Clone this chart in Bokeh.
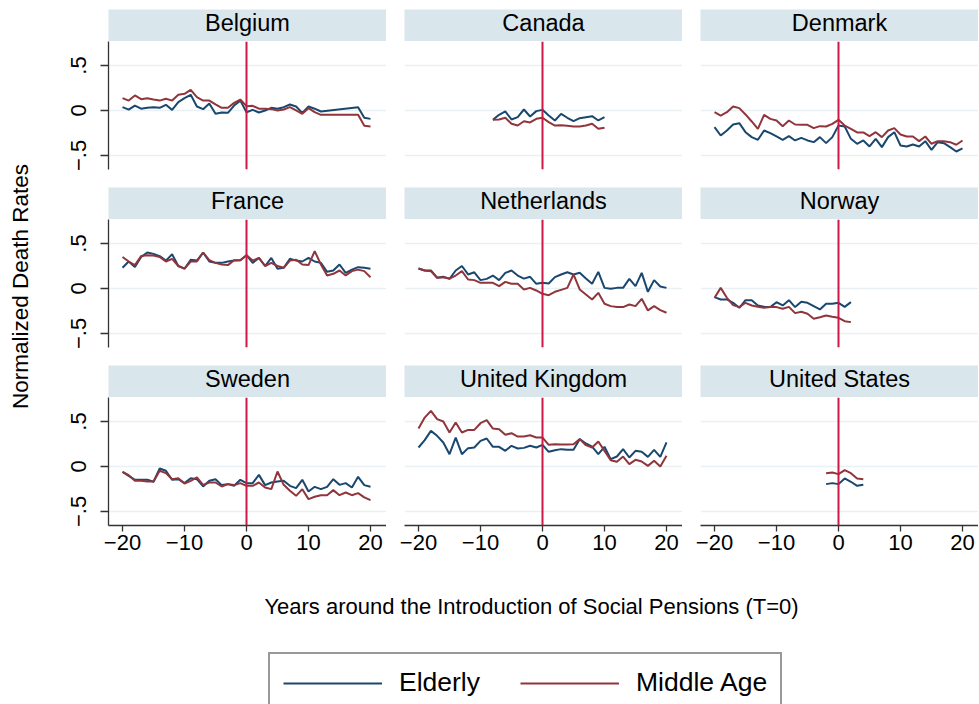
import math
from bokeh.plotting import figure
from bokeh.models import (Range1d, LinearAxis, FixedTicker, Span, Label, Legend,
                          LegendItem, CustomJSTickFormatter)
from bokeh.layouts import row, column
from bokeh.embed import file_html
from bokeh.resources import INLINE

# ---------------- data ----------------
full_years = list(range(-20, 21))

belgium_years = list(range(-20, 13)) + [18, 19, 20]
belgium_elderly = [0.037, 0.010, 0.055, 0.020, 0.030, 0.037, 0.030, 0.063, 0.007, 0.093,
                   0.137, 0.174, 0.044, 0.015, 0.078, -0.037, -0.022, -0.026, 0.055, 0.110,
                   -0.019, 0.007, -0.022, 0.000, 0.030, 0.020, 0.037, 0.067, 0.044, -0.026,
                   0.044, 0.020, -0.011, 0.037, -0.080, -0.093]
belgium_middle = [0.137, 0.110, 0.167, 0.126, 0.137, 0.122, 0.110, 0.130, 0.110, 0.174,
                  0.185, 0.230, 0.148, 0.110, 0.110, 0.067, 0.030, 0.030, 0.085, 0.122,
                  0.048, 0.052, 0.020, 0.020, 0.015, 0.000, 0.011, 0.037, 0.000, -0.037,
                  0.026, -0.019, -0.048, -0.048, -0.170, -0.178]

canada_years = list(range(-8, 11))
canada_elderly = [-0.104, -0.048, -0.011, -0.100, -0.074, 0.011, -0.067, -0.007, 0.007, -0.056,
                  -0.111, -0.037, -0.081, -0.119, -0.085, -0.074, -0.063, -0.111, -0.074]
canada_middle = [-0.104, -0.100, -0.081, -0.148, -0.167, -0.119, -0.133, -0.093, -0.081, -0.130,
                 -0.167, -0.163, -0.170, -0.178, -0.178, -0.167, -0.148, -0.204, -0.193]

denmark_years = full_years
denmark_elderly = [-0.185, -0.278, -0.222, -0.156, -0.141, -0.241, -0.296, -0.326, -0.222, -0.252,
                   -0.289, -0.326, -0.285, -0.333, -0.304, -0.333, -0.352, -0.296, -0.363, -0.296,
                   -0.167, -0.178, -0.315, -0.370, -0.333, -0.400, -0.315, -0.407, -0.296, -0.241,
                   -0.389, -0.400, -0.378, -0.400, -0.341, -0.437, -0.352, -0.363, -0.407, -0.456,
                   -0.422]
denmark_middle = [-0.019, -0.056, -0.019, 0.044, 0.026, -0.044, -0.122, -0.204, -0.048, -0.093,
                  -0.111, -0.174, -0.111, -0.156, -0.159, -0.159, -0.196, -0.174, -0.178, -0.148,
                  -0.104, -0.167, -0.204, -0.244, -0.244, -0.285, -0.241, -0.296, -0.222, -0.196,
                  -0.267, -0.289, -0.289, -0.341, -0.289, -0.370, -0.341, -0.341, -0.352, -0.381,
                  -0.333]

france_years = full_years
france_elderly = [0.230, 0.300, 0.240, 0.350, 0.400, 0.385, 0.360, 0.310, 0.380, 0.250,
                  0.220, 0.320, 0.310, 0.400, 0.300, 0.285, 0.285, 0.300, 0.310, 0.315,
                  0.370, 0.285, 0.340, 0.250, 0.340, 0.220, 0.230, 0.330, 0.310, 0.300,
                  0.340, 0.300, 0.285, 0.185, 0.200, 0.267, 0.174, 0.210, 0.237, 0.230,
                  0.220]
france_middle = [0.350, 0.300, 0.260, 0.360, 0.370, 0.367, 0.350, 0.300, 0.330, 0.250,
                 0.220, 0.300, 0.300, 0.400, 0.315, 0.285, 0.267, 0.260, 0.315, 0.315,
                 0.370, 0.310, 0.340, 0.250, 0.285, 0.250, 0.230, 0.310, 0.320, 0.267,
                 0.260, 0.415, 0.267, 0.144, 0.163, 0.200, 0.144, 0.193, 0.210, 0.193,
                 0.126]

netherlands_years = full_years
netherlands_elderly = [0.222, 0.200, 0.200, 0.120, 0.130, 0.107, 0.200, 0.250, 0.156, 0.180,
                       0.093, 0.107, 0.144, 0.093, 0.174, 0.200, 0.144, 0.110, 0.130, 0.052,
                       0.063, 0.056, 0.126, 0.156, 0.180, 0.156, 0.174, 0.110, 0.052, 0.185,
                       0.007, -0.004, 0.007, 0.007, 0.107, 0.026, 0.174, -0.037, 0.093, 0.022,
                       0.007]
netherlands_middle = [0.222, 0.200, 0.193, 0.120, 0.126, 0.110, 0.144, 0.193, 0.100, 0.093,
                      0.063, 0.063, 0.063, 0.026, 0.074, 0.052, 0.052, -0.011, 0.007, -0.022,
                      -0.059, -0.074, -0.037, -0.015, 0.007, 0.156, -0.011, -0.067, -0.122, -0.048,
                      -0.170, -0.196, -0.207, -0.207, -0.178, -0.196, -0.115, -0.244, -0.196, -0.240,
                      -0.270]

norway_years = list(range(-20, 3))
norway_elderly = [-0.096, -0.122, -0.122, -0.159, -0.215, -0.130, -0.130, -0.189, -0.204, -0.207,
                  -0.152, -0.189, -0.130, -0.207, -0.148, -0.159, -0.196, -0.233, -0.170, -0.170,
                  -0.159, -0.204, -0.152]
norway_middle = [-0.104, 0.007, -0.104, -0.185, -0.207, -0.159, -0.189, -0.204, -0.215, -0.207,
                 -0.207, -0.226, -0.204, -0.274, -0.259, -0.281, -0.337, -0.319, -0.300, -0.315,
                 -0.326, -0.363, -0.374]

sweden_years = full_years
sweden_elderly = [-0.059, -0.104, -0.148, -0.148, -0.148, -0.170, -0.022, -0.048, -0.148, -0.141,
                  -0.185, -0.130, -0.141, -0.222, -0.159, -0.141, -0.207, -0.196, -0.215, -0.148,
                  -0.185, -0.185, -0.093, -0.207, -0.178, -0.167, -0.159, -0.215, -0.241, -0.148,
                  -0.278, -0.226, -0.252, -0.226, -0.141, -0.204, -0.185, -0.233, -0.115, -0.207,
                  -0.226]
sweden_middle = [-0.059, -0.096, -0.159, -0.159, -0.167, -0.167, -0.048, -0.074, -0.141, -0.130,
                 -0.189, -0.159, -0.122, -0.204, -0.178, -0.178, -0.222, -0.196, -0.207, -0.185,
                 -0.215, -0.215, -0.178, -0.233, -0.252, -0.056, -0.204, -0.270, -0.326, -0.252,
                 -0.363, -0.337, -0.319, -0.319, -0.263, -0.319, -0.289, -0.319, -0.296, -0.344,
                 -0.374]

uk_years = full_years
uk_elderly = [0.211, 0.293, 0.396, 0.341, 0.267, 0.137, 0.322, 0.137, 0.204, 0.211,
              0.285, 0.311, 0.219, 0.219, 0.174, 0.230, 0.200, 0.207, 0.230, 0.211,
              0.241, 0.163, 0.181, 0.193, 0.185, 0.185, 0.304, 0.256, 0.222, 0.137,
              0.219, 0.081, 0.111, 0.193, 0.100, 0.174, 0.163, 0.107, 0.185, 0.107,
              0.267]
uk_middle = [0.422, 0.544, 0.619, 0.526, 0.500, 0.378, 0.489, 0.378, 0.407, 0.407,
             0.481, 0.515, 0.422, 0.415, 0.352, 0.370, 0.333, 0.333, 0.348, 0.322,
             0.322, 0.241, 0.248, 0.244, 0.244, 0.248, 0.304, 0.237, 0.211, 0.278,
             0.174, 0.070, 0.052, 0.111, 0.026, 0.074, 0.056, 0.007, 0.063, 0.000,
             0.119]

us_years = list(range(-2, 5))
us_elderly = [-0.196, -0.185, -0.196, -0.133, -0.170, -0.215, -0.204]
us_middle = [-0.074, -0.067, -0.085, -0.041, -0.074, -0.133, -0.141]

country_names = ["Belgium", "Canada", "Denmark", "France", "Netherlands", "Norway",
                 "Sweden", "United Kingdom", "United States"]
country_data = [
    (belgium_years, belgium_elderly, belgium_middle),
    (canada_years, canada_elderly, canada_middle),
    (denmark_years, denmark_elderly, denmark_middle),
    (france_years, france_elderly, france_middle),
    (netherlands_years, netherlands_elderly, netherlands_middle),
    (norway_years, norway_elderly, norway_middle),
    (sweden_years, sweden_elderly, sweden_middle),
    (uk_years, uk_elderly, uk_middle),
    (us_years, us_elderly, us_middle),
]
series_labels = ["Elderly", "Middle Age"]
y_ticks = [-0.5, 0, 0.5]
x_ticks = [-20, -10, 0, 10, 20]
x_title = "Years around the Introduction of Social Pensions (T=0)"
y_title = "Normalized Death Rates"

# ---------------- style ----------------
NAVY = "#1a476f"
MAROON = "#90353b"
VLINE = "#cc1844"
STRIP = "#d9e6eb"
GRIDC = "#eaf1f4"
AXISC = "#333333"
FONT = "Liberation Sans"
X_RANGE = (-22.26, 22.58)
Y_RANGE = (-0.656, 0.767)
FRAME_W = 278
FRAME_H = 128
GAP = 18
LEFT = 70
HEADER_H = 32
TOP_PAD = 9
YL_W = 38
ROW_GAP = 18
BOTTOM_LAST = 36
PAGE_H = 704

fmt = CustomJSTickFormatter(code="""
if (tick == 0) return '0';
let s = String(Math.abs(tick));
if (s.startsWith('0.')) s = s.slice(1);
return (tick < 0 ? '\u2212' : '') + s;
""")


def base_fig(w, h, xr, yr, left, bottom, top=0, bg="white"):
    p = figure(width=w, height=h, x_range=xr, y_range=yr,
               x_axis_location=None, y_axis_location=None,
               toolbar_location=None, output_backend="svg",
               min_border_left=left, min_border_right=0,
               min_border_top=top, min_border_bottom=bottom,
               background_fill_color=bg, border_fill_color="white")
    p.outline_line_color = None
    p.xgrid.visible = False
    p.ygrid.visible = False
    return p


rows = []
for r in range(3):
    hdrs, pans = [], []
    for c in range(3):
        i = r * 3 + c
        name = country_names[i]
        yrs, eld, mid = country_data[i]
        left = LEFT if c == 0 else GAP
        bottom = BOTTOM_LAST if r == 2 else ROW_GAP
        top = TOP_PAD if r == 0 else 0

        h = base_fig(left + FRAME_W, HEADER_H + top, Range1d(0, 1), Range1d(0, 1),
                     left, 0, top=top, bg=STRIP)
        h.add_layout(Label(x=0.5, y=0.58, text=name, text_align="center",
                           text_baseline="middle", text_font=FONT,
                           text_font_size="23.5px", text_color="black"))
        hdrs.append(h)

        p = base_fig(left + FRAME_W, FRAME_H + bottom, Range1d(*X_RANGE), Range1d(*Y_RANGE),
                     left, bottom)
        p.ygrid.visible = True
        p.ygrid.ticker = FixedTicker(ticks=y_ticks)
        p.ygrid.grid_line_color = GRIDC
        p.ygrid.grid_line_width = 1.5

        if c == 0:
            ya = LinearAxis(ticker=FixedTicker(ticks=y_ticks), formatter=fmt)
            ya.axis_line_color = AXISC
            ya.axis_line_width = 1.3
            ya.major_tick_line_color = AXISC
            ya.major_tick_line_width = 1.3
            ya.major_tick_out = 8
            ya.major_tick_in = 0
            ya.minor_tick_out = 0
            ya.major_label_orientation = "vertical"
            ya.major_label_standoff = 14
            ya.major_label_text_font = FONT
            ya.major_label_text_font_size = "22px"
            ya.major_label_text_color = "black"
            p.add_layout(ya, "left")
        if r == 2:
            xa = LinearAxis(ticker=FixedTicker(ticks=x_ticks), formatter=fmt)
            xa.axis_line_color = AXISC
            xa.axis_line_width = 1.3
            xa.major_tick_line_color = AXISC
            xa.major_tick_line_width = 1.3
            xa.major_tick_out = 6
            xa.major_tick_in = 0
            xa.minor_tick_out = 0
            xa.major_label_standoff = 3
            xa.major_label_text_font = FONT
            xa.major_label_text_font_size = "22px"
            xa.major_label_text_color = "black"
            p.add_layout(xa, "below")

        p.add_layout(Span(location=0, dimension="height", line_color=VLINE, line_width=2))
        p.line(yrs, eld, line_color=NAVY, line_width=2)
        p.line(yrs, mid, line_color=MAROON, line_width=2)
        pans.append(p)
    rows.append(row(hdrs, spacing=0))
    rows.append(row(pans, spacing=0))

grid = column(rows, spacing=0)
panel_h = TOP_PAD + 3 * HEADER_H + 2 * (FRAME_H + ROW_GAP) + FRAME_H + BOTTOM_LAST

yl = base_fig(YL_W, panel_h, Range1d(0, YL_W), Range1d(0, panel_h), 0, 0)
yl.add_layout(Label(x=20, y=panel_h - 286, text=y_title, angle=math.pi / 2,
                    text_align="center", text_baseline="middle", text_font=FONT,
                    text_font_size="22.5px", text_color="black"))

top_row = row([yl, grid], spacing=0)

TOTAL_W = YL_W + LEFT + 3 * FRAME_W + 2 * GAP
BOT_H = PAGE_H - panel_h
bf = base_fig(TOTAL_W, BOT_H, Range1d(0, TOTAL_W), Range1d(0, BOT_H), 0, 0)
bf.add_layout(Label(x=531, y=BOT_H - (606 - panel_h), text=x_title, text_align="center",
                    text_baseline="middle", text_font=FONT, text_font_size="22px",
                    text_color="black"))
# legend sample renderers: a single missing point each, so only the key is drawn
r_e = bf.line(x=[float("nan")], y=[float("nan")], line_color=NAVY, line_width=2)
r_m = bf.line(x=[float("nan")], y=[float("nan")], line_color=MAROON, line_width=2)
LEG_H = 56
leg_top = BOT_H - (655 - panel_h)
leg = Legend(items=[LegendItem(label=series_labels[0], renderers=[r_e]),
                    LegendItem(label=series_labels[1], renderers=[r_m])],
             orientation="horizontal", location=(268, leg_top - LEG_H - 2),
             padding=13, spacing=40, glyph_width=99, glyph_height=30,
             label_standoff=17, margin=0, label_height=30,
             label_text_font=FONT, label_text_font_size="26.5px", label_text_color="black",
             border_line_color=AXISC, border_line_width=2,
             background_fill_color="white", background_fill_alpha=1.0)
bf.add_layout(leg)

layout = column([top_row, bf], spacing=0)

open("out.html", "w").write(file_html(layout, INLINE))
